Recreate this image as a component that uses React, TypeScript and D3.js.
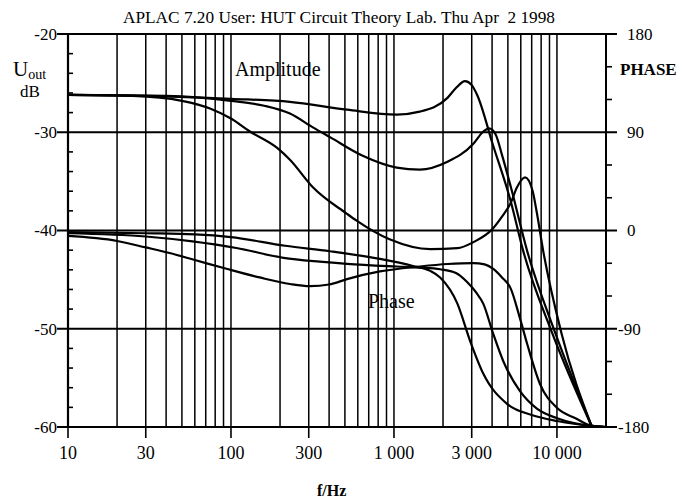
import React from "react"
import * as d3 from "d3"

// APLAC plot: amplitude (left, dB) and phase (right, deg) vs frequency
const title = "APLAC 7.20 User: HUT Circuit Theory Lab. Thu Apr  2 1998"
const freqTicks = [10, 30, 100, 300, 1000, 3000, 10000]
const freqTickLabels = ["10", "30", "100", "300", "1 000", "3 000", "10 000"]
const dbTicks = [-20, -30, -40, -50, -60]
const phaseTicks = [180, 90, 0, -90, -180]

// [frequency Hz, dB]
const amplitude1: [number, number][] = [
  [10, -26.2], [30, -26.3], [100, -26.6], [230, -26.9], [515, -27.7], [1040, -28.2],
  [1440, -27.9], [2130, -26.5], [2400, -25.5], [2730, -24.8], [3000, -25.2],
  [3240, -26.2], [4050, -31.3], [5200, -37], [6190, -42], [9330, -50.4], [16400, -60],
]
const amplitude2: [number, number][] = [
  [10, -26.2], [40, -26.3], [100, -26.8], [160, -27.3], [230, -28.1], [318, -29.5],
  [405, -30.5], [643, -32.4], [1040, -33.6], [1440, -33.8], [2130, -33], [3060, -31.2],
  [3500, -30], [3830, -29.6], [4200, -30.2], [4600, -32.3], [5200, -35.5], [6570, -42.1],
  [9750, -50.4], [16400, -60],
]
const amplitude3: [number, number][] = [
  [10, -26.2], [25, -26.3], [50, -26.8], [75, -27.6], [100, -28.6], [130, -29.9],
  [192, -31.6], [230, -32.8], [318, -35.6], [515, -38.3], [590, -39], [940, -40.9],
  [1670, -41.9], [2450, -41.8], [3060, -41.2], [4050, -39.8], [4600, -38.6],
  [5200, -37.2], [5690, -35.6], [6380, -34.6], [7100, -36], [7530, -38.2], [8220, -42],
  [10640, -50.4], [16400, -60],
]

// [frequency Hz, degrees]
const phase1: [number, number][] = [
  [10, -1.5], [30, -2.5], [60, -3.5], [100, -6], [215, -14], [405, -19], [820, -26],
  [1310, -32.5], [1670, -37], [1920, -43], [2450, -67], [2930, -101], [3530, -131],
  [4960, -159], [7000, -169], [10030, -174.5], [16400, -179], [20000, -180],
]
const phase2: [number, number][] = [
  [10, -2.5], [30, -5.5], [58, -10], [108, -16], [210, -25], [350, -28.5], [515, -30.5],
  [1040, -33], [1440, -34], [1920, -35.5], [2400, -39], [2800, -47], [3200, -57],
  [3530, -67], [4050, -94], [4680, -119.5], [5920, -147], [7500, -163], [10030, -172],
  [16400, -179], [20000, -180],
]
const phase3: [number, number][] = [
  [10, -5], [20, -9.6], [30, -15.5], [42, -20.6], [60, -27], [95, -35.3], [150, -43],
  [230, -49], [305, -51], [400, -49.5], [515, -44.5], [820, -37.5], [1440, -33],
  [2130, -30.7], [3060, -29.8], [3600, -31], [4050, -35], [4600, -43], [5200, -53],
  [5920, -80], [6570, -104], [7870, -140.6], [10030, -162.6], [13000, -172],
  [16400, -179], [20000, -180],
]

const font = "'Liberation Serif', 'Times New Roman', serif"

export default function App() {
  const x = d3.scaleLog().domain([10, 20000]).range([68, 606])
  const yDb = d3.scaleLinear().domain([-20, -60]).range([34, 427])
  const yPh = d3.scaleLinear().domain([180, -180]).range([34, 427])

  const ampLine = d3.line<[number, number]>()
    .x(d => x(d[0])).y(d => yDb(d[1])).curve(d3.curveMonotoneX)
  const phLine = d3.line<[number, number]>()
    .x(d => x(d[0])).y(d => yPh(d[1])).curve(d3.curveMonotoneX)

  const vGrid = x.ticks().filter(f => f > 10 && f < 20000)
  const dbMinor = d3.range(-58, -20, 2).filter(v => v % 10 !== 0)
  const phMinor = d3.range(-150, 180, 30).filter(v => v % 90 !== 0)

  const [x0, x1] = x.range()
  const [yTop, yBot] = yDb.range()

  return (
    <svg width={697} height={499} style={{ position: "absolute", left: 0, top: 0, background: "#fff" }}
      fontFamily={font}>
      <rect width={697} height={499} fill="#fff" />
      <text x={339} y={23} textAnchor="middle" fontSize={16} textLength={432}
        lengthAdjust="spacingAndGlyphs" style={{ whiteSpace: "pre" }}>{title}</text>

      {/* vertical log grid */}
      {vGrid.map(f => (
        <line key={"v" + f} x1={x(f)} x2={x(f)} y1={yTop} y2={yBot} stroke="#000" strokeWidth={1.5} />
      ))}
      {/* horizontal grid */}
      {dbTicks.map(v => (
        <line key={"h" + v} x1={57} x2={617} y1={yDb(v)} y2={yDb(v)} stroke="#000" strokeWidth={2.2} />
      ))}
      {/* axes */}
      <line x1={x0} x2={x0} y1={yTop} y2={yBot} stroke="#000" strokeWidth={2.2} />
      <line x1={x1} x2={x1} y1={yTop} y2={yBot} stroke="#000" strokeWidth={2} />
      {dbMinor.map(v => (
        <line key={"lm" + v} x1={x0} x2={x0 + 5} y1={yDb(v)} y2={yDb(v)} stroke="#000" strokeWidth={1.6} />
      ))}
      {phMinor.map(v => (
        <line key={"rm" + v} x1={x1} x2={x1 + 6} y1={yPh(v)} y2={yPh(v)} stroke="#000" strokeWidth={1.6} />
      ))}
      {freqTicks.map(f => (
        <line key={"bt" + f} x1={x(f)} x2={x(f)} y1={yBot} y2={yBot + 11} stroke="#000" strokeWidth={1.6} />
      ))}

      {/* tick labels */}
      {dbTicks.map(v => (
        <text key={"dl" + v} x={57} y={yDb(v)} dy="0.35em" textAnchor="end" fontSize={17}>{v}</text>
      ))}
      {phaseTicks.map(v => (
        <text key={"pl" + v} x={v < 0 ? 618 : 627} y={yPh(v)} dy="0.35em" fontSize={17}>{v}</text>
      ))}
      {freqTicks.map((f, i) => (
        <text key={"fl" + f} x={x(f)} y={459} textAnchor="middle" fontSize={18}>{freqTickLabels[i]}</text>
      ))}

      {/* titles */}
      <text x={13} y={76} fontSize={21}>U<tspan fontSize={14} dy={3}>out</tspan></text>
      <text x={20} y={97} fontSize={17}>dB</text>
      <text x={620} y={75} fontSize={17} fontWeight="bold">PHASE</text>
      <text x={317} y={496} fontSize={16} fontWeight="bold">f/Hz</text>
      <text x={235} y={76} fontSize={20}>Amplitude</text>
      <text x={368} y={308} fontSize={20}>Phase</text>

      {/* curves */}
      {[amplitude1, amplitude2, amplitude3].map((d, i) => (
        <path key={"a" + i} d={ampLine(d) ?? ""} fill="none" stroke="#000" strokeWidth={2.2} />
      ))}
      {[phase1, phase2, phase3].map((d, i) => (
        <path key={"p" + i} d={phLine(d) ?? ""} fill="none" stroke="#000" strokeWidth={2.2} />
      ))}
    </svg>
  )
}
